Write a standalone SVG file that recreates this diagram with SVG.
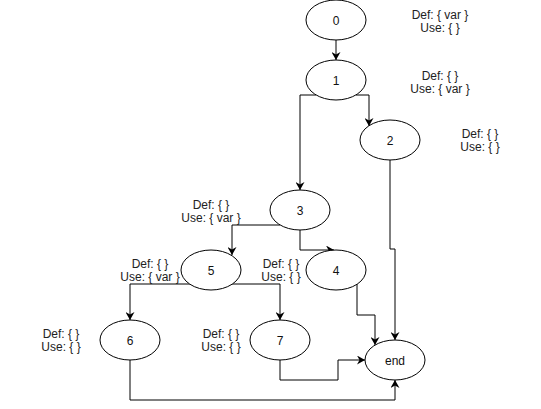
<svg xmlns="http://www.w3.org/2000/svg" width="541" height="409" viewBox="0 0 541 409">
  <style>
    .node ellipse { fill: #ffffff; stroke: #000000; stroke-width: 1; }
    .node text { font-family: "Liberation Sans", Arial, sans-serif; font-size: 12px; fill: #111111; text-anchor: middle; }
    .note { font-family: "Liberation Sans", Arial, sans-serif; font-size: 12px; fill: #222222; text-anchor: middle; }
    .edges path { fill: none; stroke: #000000; stroke-width: 1; marker-end: url(#arrow); }
  </style>
  <defs>
    <marker id="arrow" viewBox="0 0 8 9" refX="8" refY="4.5" markerWidth="8" markerHeight="9" markerUnits="userSpaceOnUse" orient="auto">
      <path d="M0,0 L8,4.5 L0,9 L2.5,4.5 Z" fill="#000000"/>
    </marker>
  </defs>
  <rect width="541" height="409" fill="#ffffff"/>

  <!-- connectors -->
  <g id="edges" class="edges">
    <path d="M336,40 V60"/>
    <path d="M356,95 H369 V126"/>
    <path d="M316,95 H300 V190"/>
    <path d="M280,225 H232 V255"/>
    <path d="M300,230 V250 H334"/>
    <path d="M357,284 V315 H375 V345"/>
    <path d="M390,160 V249 H395 V340"/>
    <path d="M190,284 H130 V320"/>
    <path d="M232,284 H280 V320"/>
    <path d="M280,360 V380 H338 V360 H365"/>
    <path d="M130,360 V400 H395 V380"/>
  </g>

  <!-- nodes -->
  <g id="n0" class="node">
    <ellipse cx="336" cy="20" rx="30" ry="20"/>
    <text x="336" y="24.5">0</text>
  </g>
  <g id="n1" class="node">
    <ellipse cx="336" cy="80" rx="30" ry="20"/>
    <text x="336" y="84.5">1</text>
  </g>
  <g id="n2" class="node">
    <ellipse cx="390" cy="140" rx="30" ry="20"/>
    <text x="390" y="144.5">2</text>
  </g>
  <g id="n3" class="node">
    <ellipse cx="300" cy="210" rx="30" ry="20"/>
    <text x="300" y="214.5">3</text>
  </g>
  <g id="n4" class="node">
    <ellipse cx="336" cy="270" rx="30" ry="20"/>
    <text x="336" y="274.5">4</text>
  </g>
  <g id="n5" class="node">
    <ellipse cx="211" cy="270" rx="30" ry="20"/>
    <text x="211" y="274.5">5</text>
  </g>
  <g id="n6" class="node">
    <ellipse cx="130" cy="340" rx="30" ry="20"/>
    <text x="130" y="344.5">6</text>
  </g>
  <g id="n7" class="node">
    <ellipse cx="280" cy="340" rx="30" ry="20"/>
    <text x="280" y="344.5">7</text>
  </g>
  <g id="nend" class="node">
    <ellipse cx="395" cy="360" rx="30" ry="20"/>
    <text x="395" y="364.5">end</text>
  </g>

  <!-- def/use annotations -->
  <g id="notes">
    <text class="note" x="440" y="19">Def: { var }</text>
    <text class="note" x="440" y="32">Use: { }</text>
    <text class="note" x="440" y="80">Def: { }</text>
    <text class="note" x="440" y="93">Use: { var }</text>
    <text class="note" x="480" y="138">Def: { }</text>
    <text class="note" x="480" y="151">Use: { }</text>
    <text class="note" x="211" y="209">Def: { }</text>
    <text class="note" x="211" y="222">Use: { var }</text>
    <text class="note" x="150" y="268">Def: { }</text>
    <text class="note" x="150" y="281">Use: { var }</text>
    <text class="note" x="281" y="268">Def: { }</text>
    <text class="note" x="281" y="281">Use: { }</text>
    <text class="note" x="61" y="338">Def: { }</text>
    <text class="note" x="61" y="351">Use: { }</text>
    <text class="note" x="221" y="338">Def: { }</text>
    <text class="note" x="221" y="351">Use: { }</text>
  </g>
</svg>
